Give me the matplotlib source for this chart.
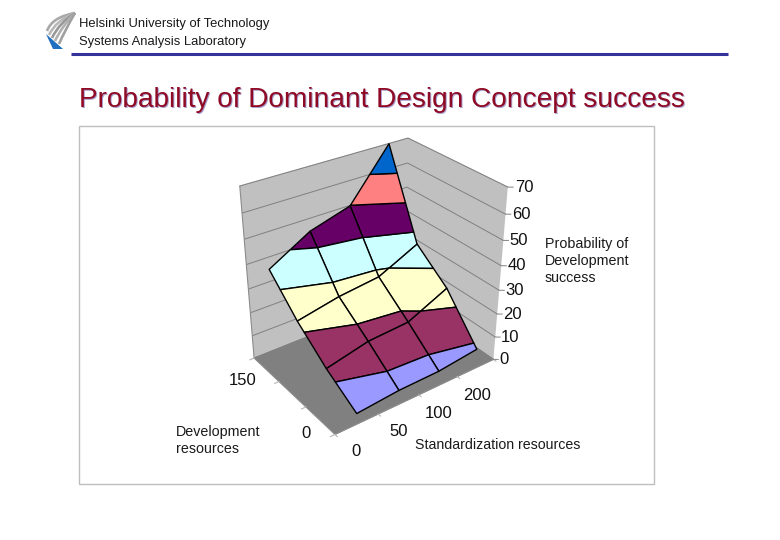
import numpy as np
import matplotlib
matplotlib.use("Agg")
import matplotlib.pyplot as plt
from matplotlib.patches import PathPatch, Polygon, Rectangle
from matplotlib.path import Path
from mpl_toolkits.mplot3d import proj3d
from mpl_toolkits.mplot3d.art3d import Poly3DCollection

std_labels = ["0", "50", "100", "200"]
dev_labels = ["0", "150"]
prob_ticks = [0, 10, 20, 30, 40, 50, 60, 70]

# probability of development success, rows = development, columns = standardization
prob_dev0 = [4.5, 6.0, 6.3, 8.3]
prob_dev1 = [12.4, 16.4, 17.5, 25.3]
prob_dev2 = [22.4, 25.9, 27.9, 35.9]
prob_dev3 = [35.0, 44.8, 49.8, 69.9]

band_edges = [0, 10, 20, 30, 40, 50, 60, 70]
band_colors = ["#9999FF", "#993366", "#FFFFCC", "#CCFFFF", "#660066", "#FF8080", "#0066CC"]

W, H = 780, 540


def clip_band(poly, lo, hi):
    """Cut one surface cell down to the part between two z levels."""
    for level, keep_above in ((lo, True), (hi, False)):
        out = []
        for i in range(len(poly)):
            a, b = poly[i], poly[(i + 1) % len(poly)]
            a_in = a[2] >= level if keep_above else a[2] <= level
            b_in = b[2] >= level if keep_above else b[2] <= level
            if a_in:
                out.append(a)
            if a_in != b_in:
                t = (level - a[2]) / (b[2] - a[2])
                out.append(tuple(a[k] + t * (b[k] - a[k]) for k in range(3)))
        poly = out
        if not poly:
            break
    return poly


plt.rcParams["font.family"] = ["Liberation Sans", "DejaVu Sans"]
plt.rcParams["grid.color"] = "#808080"
plt.rcParams["grid.linewidth"] = 0.7

fig = plt.figure(figsize=(7.8, 5.4), dpi=100)

# page furniture drawn in pixel coordinates
page = fig.add_axes([0, 0, 1, 1], zorder=0)
page.set_xlim(0, W)
page.set_ylim(H, 0)
page.axis("off")
page.add_patch(Rectangle((79, 126), 575, 358, fc="white", ec="#BEBEBE", lw=1))
page.plot([71, 728], [54, 54], color="#333399", lw=2.2, solid_capstyle="butt")

# logo
for end, ctrl, col in [((47, 31), (52, 17), "#A8A8A8"), ((49, 35), (56, 20), "#B8B8B8"),
                       ((52, 38), (59, 23), "#989898"), ((55, 41), (62, 26), "#B0B0B0"),
                       ((59, 44), (65, 30), "#A0A0A0")]:
    path = Path([(75, 13), ctrl, end], [Path.MOVETO, Path.CURVE3, Path.CURVE3])
    page.add_patch(PathPatch(path, fc="none", ec=col, lw=1.9))
page.add_patch(Polygon([(46, 34), (63, 49), (53, 49)], fc="#1F6FC0", ec="none"))

# surface in a 3d axes, view and placement fitted to the picture
ax = fig.add_axes([0.1, 0.1, 0.3, 0.3], projection="3d", zorder=1)
ax.patch.set_visible(False)
ax.set_xlim(0, 4, view_margin=0)
ax.set_ylim(0, 4, view_margin=0)
ax.set_zlim(0, 70, view_margin=0)
ax.view_init(elev=30.717, azim=-126.372)
ax.set_box_aspect((1.332, 1, 1.315), zoom=1.879)

scale, tx, ty = 899.68, 373.63, 262.48
vx0, vx1 = ax.viewLim.intervalx
vy0, vy1 = ax.viewLim.intervaly
ax.set_position([(tx + scale * vx0) / W, (ty + scale * vy0) / H,
                 scale * (vx1 - vx0) / W, scale * (vy1 - vy0) / H])

for axis in (ax.xaxis, ax.yaxis, ax.zaxis):
    axis.pane.set_edgecolor("#A0A0A0")
    axis.pane.set_linewidth(0.8)
    axis.line.set_color("#8C8C8C")
    axis.line.set_linewidth(0.8)
ax.xaxis.set_pane_color("#C0C0C0", alpha=1)
ax.yaxis.set_pane_color("#C0C0C0", alpha=1)
ax.zaxis.set_pane_color("#808080", alpha=1)
ax.set_xticks([])
ax.set_yticks([])
ax.set_zticks(prob_ticks)
ax.set_zticklabels([])
ax.tick_params(axis="z", length=0, color="none")

xs = np.arange(4) + 0.5
ys = np.linspace(0, 4, 4)
prob = np.array([prob_dev0, prob_dev1, prob_dev2, prob_dev3])

polys, colors = [], []
for i in range(3):
    for j in range(3):
        cell = [(xs[j], ys[i], prob[i, j]), (xs[j + 1], ys[i], prob[i, j + 1]),
                (xs[j + 1], ys[i + 1], prob[i + 1, j + 1]), (xs[j], ys[i + 1], prob[i + 1, j])]
        for k, col in enumerate(band_colors):
            part = clip_band(cell, band_edges[k], band_edges[k + 1])
            if len(part) >= 3:
                polys.append(part)
                colors.append(col)
surf = Poly3DCollection(polys, facecolors=colors, edgecolors="black", linewidths=1.0)
surf.set_clip_on(False)
ax.add_collection3d(surf)

# tick marks
tick_col = "#B4B4B4"
for x in np.arange(5):
    ax.plot([x, x], [0, -0.1], [0, 0], color=tick_col, lw=0.8, clip_on=False)
for y in ys:
    ax.plot([0, -0.1], [y, y], [0, 0], color=tick_col, lw=0.8, clip_on=False)
for z in prob_ticks:
    ax.plot([4, 4.08], [0, -0.08], [z, z], color="#808080", lw=0.7, clip_on=False)


# tick labels, placed through the 3d projection
def label3d(x, y, z, s):
    px, py, _ = proj3d.proj_transform(x, y, z, ax.get_proj())
    ax.text2D(px, py, s, transform=ax.transData, fontsize=12, ha="center", va="center",
              color="#111111")


for x, lab in zip(np.arange(4), std_labels):
    label3d(0.05 + 0.95 * x, -0.82 - 0.04 * x, 0, lab)
for y, x, lab in zip((0.45, 3.3), (-0.43, -0.56), dev_labels):
    label3d(x, y, 0, lab)
for z in prob_ticks:
    off = 0.17 if z == 0 else 0.24
    label3d(4 + off, -off, z, str(z))


# header, title and notes
def px_text(x, y, s, **kw):
    return fig.text(x / W, 1 - y / H, s, va="center", **kw)


px_text(79, 24.5, "Helsinki University of Technology", fontsize=9.4, color="#1A1A1A")
px_text(79, 41.5, "Systems Analysis Laboratory", fontsize=9.4, color="#1A1A1A")
px_text(80.5, 101.5, "Probability of Dominant Design Concept success", fontsize=20.2, color="#A9A0CF")
px_text(79, 100, "Probability of Dominant Design Concept success", fontsize=20.2, color="#8F0A24")
for y, s in zip((244, 261, 278), ("Probability of", "Development", "success")):
    px_text(545, y, s, fontsize=10.3, color="#1A1A1A")
for y, s in zip((432, 449), ("Development", "resources")):
    px_text(176, y, s, fontsize=10.3, color="#1A1A1A")
px_text(415, 445, "Standardization resources", fontsize=10.2, color="#1A1A1A")

fig.savefig("out.png", dpi=100)
